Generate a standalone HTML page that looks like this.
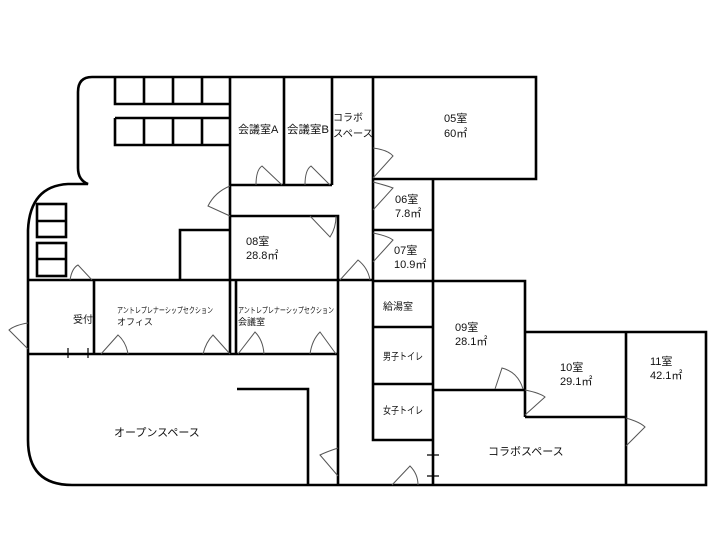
<!DOCTYPE html>
<html><head><meta charset="utf-8"><style>
html,body{margin:0;padding:0;background:#fff;}
svg{display:block;}
text{font-family:"Liberation Sans","Noto Sans CJK JP",sans-serif;fill:#111;}
</style></head><body>
<svg width="720" height="540" viewBox="0 0 720 540" xmlns="http://www.w3.org/2000/svg">
<g fill="none" stroke="#000" stroke-width="2.6" stroke-linejoin="miter">
<path d="M373,77 H92 Q78,77 78,92 V168 Q78,180 88,184 H68 Q30,186 28,230 V440 Q28,485 72,485 H706 V332 H525"/>
<path d="M115,77 V104 H230 M144,77 V104 M173,77 V104 M202,77 V104"/>
<path d="M115,118 H230 M115,118 V145 H230 M144,118 V145 M173,118 V145 M202,118 V145"/>
<rect x="37" y="204" width="29" height="33"/><path d="M37,221 H66"/>
<rect x="37" y="243" width="29" height="33"/><path d="M37,259 H66"/>
<path d="M230,77 V354 M284,77 V185 M332,77 V185 M230,185 H332"/>
<path d="M230,216 H338 V280 M180,280 V230 H230"/>
<path d="M28,280 H373 M28,354 H338 M94,280 V354 M236,280 V354"/>
<path d="M68,348 V358 M88,348 V358" stroke-width="1.2"/>
<path d="M237,389 H308 V485"/>
<path d="M338,280 V485 M373,77 V440 H433"/>
<path d="M373,77 H536 V179 H373"/>
<path d="M433,179 V281 M373,230 H433"/>
<path d="M373,281 H525 V417 M373,327 H433 M373,384 H433 M433,281 V485"/>
<path d="M427,455 H439 M427,476 H439" stroke-width="1.2"/>
<path d="M433,390 H525 M525,417 H626 M626,332 V485"/>
</g>
<g fill="none" stroke="#555" stroke-width="1">
<path d="M256,185 Q256,170 262,166 L282,185"/>
<path d="M305,185 Q305,170 311,166 L330,185"/>
<path d="M230,186 Q215,192 208,206 L230,216"/>
<path d="M310,216 L330,237 Q336,228 336,216"/>
<path d="M340,280 L358,260 Q368,268 370,280"/>
<path d="M373,148 Q388,150 393,156 L373,178"/>
<path d="M373,182 Q388,186 393,188 L373,210"/>
<path d="M373,233 Q388,236 393,240 L373,262"/>
<path d="M70,280 Q72,268 78,265 L92,280"/>
<path d="M28,323 Q15,325 9,330 L28,349"/>
<path d="M101,354 L118,335 Q126,342 128,354"/>
<path d="M230,354 L213,335 Q206,342 203,354"/>
<path d="M238,354 L255,332 Q263,340 264,354"/>
<path d="M336,354 L320,332 Q312,340 310,354"/>
<path d="M338,448 Q326,452 320,455 L338,476"/>
<path d="M392,485 L410,466 Q418,474 418,485"/>
<path d="M495,389 L502,368 Q518,372 523,389"/>
<path d="M525,390 Q540,393 545,397 L525,415"/>
<path d="M626,418 Q640,422 645,427 L626,446"/>
</g>
<g font-size="11">
<text x="238" y="133">会議室A</text>
<text x="287" y="133" textLength="42" lengthAdjust="spacingAndGlyphs">会議室B</text>
<text x="333" y="121" font-size="10">コラボ</text>
<text x="333" y="137" font-size="10" textLength="40" lengthAdjust="spacingAndGlyphs">スペース</text>
<text x="444" y="122">05室</text>
<text x="444" y="137">60㎡</text>
<text x="395" y="203">06室</text>
<text x="395" y="217">7.8㎡</text>
<text x="394" y="254">07室</text>
<text x="394" y="268">10.9㎡</text>
<text x="246" y="245">08室</text>
<text x="246" y="259">28.8㎡</text>
<text x="73" y="323" font-size="10">受付</text>
<text x="117" y="313" font-size="8" textLength="96" lengthAdjust="spacingAndGlyphs">アントレプレナーシップセクション</text>
<text x="117" y="325" font-size="9">オフィス</text>
<text x="238" y="313" font-size="8" textLength="96" lengthAdjust="spacingAndGlyphs">アントレプレナーシップセクション</text>
<text x="238" y="325" font-size="9">会議室</text>
<text x="114" y="436">オープンスペース</text>
<text x="383" y="310" font-size="10">給湯室</text>
<text x="383" y="360" font-size="10" textLength="40" lengthAdjust="spacingAndGlyphs">男子トイレ</text>
<text x="383" y="414" font-size="10" textLength="40" lengthAdjust="spacingAndGlyphs">女子トイレ</text>
<text x="455" y="331">09室</text>
<text x="455" y="345">28.1㎡</text>
<text x="560" y="371">10室</text>
<text x="560" y="385">29.1㎡</text>
<text x="650" y="365">11室</text>
<text x="650" y="379">42.1㎡</text>
<text x="488" y="455">コラボスペース</text>
</g>
</svg>
</body></html>
